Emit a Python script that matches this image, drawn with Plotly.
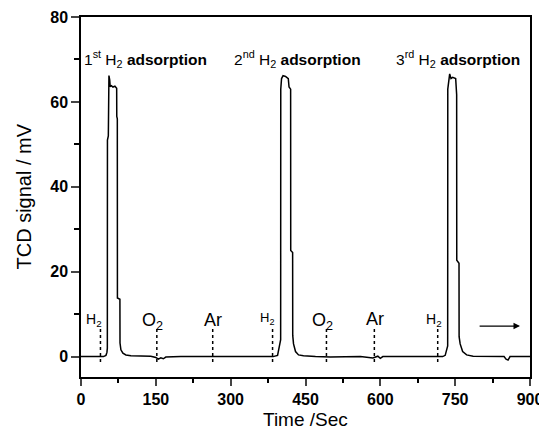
import plotly.graph_objects as go

# TCD trace (time in s, signal in mV)
time = [0, 20, 45, 50, 52, 52.8, 53, 54.8, 55, 56, 57.5, 58.5, 61, 64, 68, 71.5, 71.7, 72.8, 73, 78, 78.2, 80, 84, 90, 100,
        140, 150, 155, 160, 165, 170, 200, 260, 300, 350, 385, 394, 396, 399, 400.2, 400.4, 402, 405, 410, 415.5, 417, 420.2,
        420.4, 424.2, 424.4, 426, 430, 436, 446, 470, 500, 560, 585, 595, 600, 605, 640, 700, 725, 730, 733, 735, 735.2,
        737.6, 739, 741.6, 745, 751, 753, 753.2, 757.7, 757.9, 760, 765, 773, 786, 820, 848, 852, 856, 860, 880, 900]
signal = [0, 0, 0, 0.3, 1.0, 2.0, 51, 52, 65.5, 66.2, 65.2, 63.6, 63.8, 63.5, 63.7, 63.2, 56.6, 56.0, 13.8, 13.5, 3.2, 1.6, 0.8, 0.4, 0.2,
          0.1, -0.2, -0.6, -0.3, -0.5, -0.1, 0, 0, 0, 0, 0, 0.3, 1.5, 2.8, 4, 63, 65.5, 66.2, 66.0, 65.5, 63.5, 63.0,
          25.0, 24.5, 5.0, 3.0, 1.2, 0.4, 0.2, 0, -0.1, 0, -0.3, 0.1, -0.4, 0, 0, 0, 0, 0.3, 1.5, 2.5, 63,
          66.0, 66.6, 65.5, 65.8, 65.5, 61.7, 22.7, 22.0, 4.7, 3.0, 1.2, 0.4, 0.1, 0, 0, -0.6, -0.8, 0, 0, 0]

# gas switching marks
mark_t = [39, 152, 264, 384, 492, 588, 715]
mark_lbl = ["H<sub>2</sub>", "O<sub>2</sub>", "Ar", "H<sub>2</sub>", "O<sub>2</sub>", "Ar", "H<sub>2</sub>"]
mark_lbl_x = [27, 143, 265, 373, 485, 590, 707]
mark_lbl_y = [8.6, 8.2, 8.6, 9.0, 8.2, 8.8, 8.6]
mark_size = [14, 18, 18, 13, 18, 18, 14]

# peak titles
peak_lbl = ["1<sup>st</sup> H<sub>2</sub> <b>adsorption</b>", "2<sup>nd</sup> H<sub>2</sub> <b>adsorption</b>",
            "3<sup>rd</sup> H<sub>2</sub> <b>adsorption</b>"]
peak_lbl_x = [1, 302, 627]

fig = go.Figure()
fig.add_trace(go.Scatter(x=time, y=signal, mode="lines", line=dict(color="black", width=1.5), showlegend=False))

for t in mark_t:
    fig.add_trace(go.Scatter(x=[t, t], y=[6.5, -2], mode="lines",
                             line=dict(color="black", width=1.5, dash="dot"), showlegend=False))

for txt, x, y, s in zip(mark_lbl, mark_lbl_x, mark_lbl_y, mark_size):
    fig.add_annotation(x=x, y=y, text=txt, showarrow=False, xanchor="center", yanchor="middle",
                       font=dict(size=s, color="black"))

for txt, x in zip(peak_lbl, peak_lbl_x):
    fig.add_annotation(x=x, y=70, text=txt, showarrow=False, xanchor="left", yanchor="middle",
                       font=dict(size=15.5, color="black"))

# arrow at the end
fig.add_annotation(x=880, y=7.2, ax=796, ay=7.2, xref="x", yref="y", axref="x", ayref="y",
                   text="", showarrow=True, arrowhead=2, arrowsize=1, arrowwidth=1.3, arrowcolor="black")

# axis titles
fig.add_annotation(x=-0.128, y=0.5, xref="paper", yref="paper", text="TCD signal / mV", textangle=-90,
                   showarrow=False, xanchor="center", yanchor="middle", font=dict(size=20, color="black"))
fig.add_annotation(x=0.5, y=-0.118, xref="paper", yref="paper", text="Time /Sec",
                   showarrow=False, xanchor="center", yanchor="middle", font=dict(size=19, color="black"))

# the page body adds an 8px offset, so the figure is 8px smaller and margins shifted
fig.update_layout(
    width=539, height=427,
    margin=dict(l=73, r=17, t=9, b=58),
    paper_bgcolor="white", plot_bgcolor="white",
    font=dict(family="Liberation Sans, Arial, sans-serif", color="black"),
)
fig.update_xaxes(range=[0, 900], tickvals=[0, 150, 300, 450, 600, 750, 900], automargin=False,
                 ticks="outside", ticklen=7, tickwidth=1.5, showline=True, linewidth=1.5, linecolor="black",
                 mirror=True, showgrid=False, zeroline=False,
                 minor=dict(tickvals=[75, 225, 375, 525, 675, 825], ticks="outside", ticklen=4, tickcolor="black"),
                 tickfont=dict(size=16, weight="bold"))
fig.update_yaxes(range=[-4.8, 80], tickvals=[0, 20, 40, 60, 80], automargin=False,
                 ticks="outside", ticklen=8, tickwidth=1.5, showline=True, linewidth=1.5, linecolor="black",
                 mirror=True, showgrid=False, zeroline=False,
                 minor=dict(tickvals=[10, 30, 50, 70], ticks="outside", ticklen=5, tickcolor="black"),
                 tickfont=dict(size=16, weight="bold"))

fig.write_html("out.html")
